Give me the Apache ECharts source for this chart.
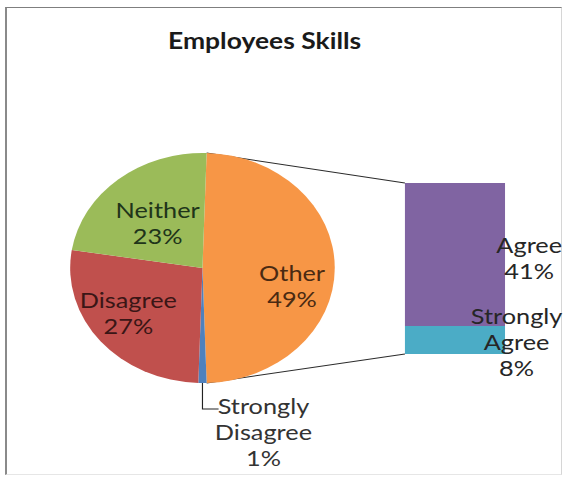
<!DOCTYPE html>
<html>
<head>
<meta charset="utf-8">
<script src="https://cdn.jsdelivr.net/npm/echarts@6/dist/echarts.min.js"></script>
<style>
  html, body { margin: 0; padding: 0; background: #fff; width: 566px; height: 477px; overflow: hidden; }
  #frame {
    position: absolute; left: 5px; top: 7px; width: 557px; height: 468px; box-sizing: border-box;
    border-top: 1px solid #7f7f7f; border-left: 2px solid #8a8a8a;
    border-right: 1px solid #d6d6d6; border-bottom: 1px solid #e6e6e6;
  }
  /* the chart is laid out on a narrower canvas and widened to the page */
  #chart { position: absolute; left: 0; top: 0; width: 492px; height: 477px; transform: scaleX(1.1504); transform-origin: 0 0; }
</style>
</head>
<body>
<div id="frame"></div>
<div id="chart"></div>
<script>
// Answers shown as their own pie slices
const pieCategories = ['Strongly Disagree', 'Disagree', 'Neither'];
const pieValues = [1, 27, 23];
// Answers grouped into the "Other" slice and broken out in the stacked bar
const barCategories = ['Agree', 'Strongly Agree'];
const barValues = [41, 8];
const otherName = 'Other';
const titleText = 'Employees Skills';

const colors = {
  'Strongly Disagree': '#4F81BD',
  'Disagree': '#C0504D',
  'Neither': '#9BBB59',
  'Agree': '#8064A2',
  'Strongly Agree': '#4BACC6',
  'Other': '#F79646'
};
const labelColors = { 'Other': '#4a2a12', 'Disagree': '#3a1616', 'Neither': '#20341a' };
const FONT = 'Lato, "Open Sans", sans-serif';

const otherValue = barValues.reduce((a, b) => a + b, 0);
const total = otherValue + pieValues.reduce((a, b) => a + b, 0);
// "Other" slice is centred on the 3 o'clock direction
const otherSweep = otherValue / total * 360;
const startAngle = otherSweep / 2;

const pieCenter = [176, 268];
const pieRadius = 115;
const grid = { left: 352, top: 183, width: 87, height: 171 };

// nudges for the labels drawn inside the slices
const insideNudge = { 'Other': [8.7, 9], 'Neither': [-0.2, 0.5], 'Disagree': [-8.9, 3] };

// category names wrap onto separate lines in the labels
const wrapName = n => n.replace(' ', '\n');

const pieData = [{ name: otherName, value: otherValue }].concat(
  pieCategories.map((n, i) => ({ name: n, value: pieValues[i] }))
).map(d => {
  const item = { name: d.name, value: d.value, itemStyle: { color: colors[d.name] } };
  if (d.name === 'Strongly Disagree') {
    item.label = { position: 'outside', color: '#333', align: 'center' };
    item.labelLine = { show: true, lineStyle: { color: '#222', width: 1 } };
  } else {
    item.label = { position: 'inside', color: labelColors[d.name] };
    item.labelLine = { show: false };
  }
  return item;
});

const barOrder = barCategories.slice().reverse(); // bottom segment first
const barLabelDistance = { 'Agree': 21, 'Strongly Agree': 10 };
const barLabelOffset = { 'Agree': [0, 3], 'Strongly Agree': [0, 2] };

const chart = echarts.init(document.getElementById('chart'), null, { renderer: 'svg' });

chart.setOption({
  animation: false,
  backgroundColor: 'transparent',
  title: {
    text: titleText,
    left: 230,
    top: 29,
    padding: 0,
    textAlign: 'center',
    textStyle: { fontFamily: FONT, fontWeight: 'bold', fontSize: 23, color: '#1a1a1a' }
  },
  grid: grid,
  xAxis: { type: 'category', data: [otherName], show: false },
  yAxis: { type: 'value', min: 0, max: otherValue, show: false },
  series: [
    {
      type: 'pie',
      center: pieCenter,
      radius: pieRadius,
      startAngle: startAngle,
      clockwise: true,
      avoidLabelOverlap: false,
      z: 3,
      label: {
        formatter: p => wrapName(p.name) + '\n' + p.value + '%',
        fontFamily: FONT, fontSize: 22, lineHeight: 26
      },
      labelLayout: function (p) {
        const name = pieData[p.dataIndex].name;
        if (name === 'Strongly Disagree') {
          const p0 = p.labelLinePoints ? p.labelLinePoints[0] : [pieCenter[0], pieCenter[1] + pieRadius];
          const bend = [p0[0], p0[1] + 26];
          return {
            x: p0[0] + 53, y: p0[1] + 49,
            align: 'center', verticalAlign: 'middle',
            labelLinePoints: [p0, bend, [bend[0] + 14, bend[1]]]
          };
        }
        const n = insideNudge[name] || [0, 0];
        return { dx: n[0], dy: n[1] };
      },
      data: pieData
    }
  ].concat(barOrder.map(name => ({
    type: 'bar',
    name: name,
    stack: 'other',
    barWidth: '100%',
    itemStyle: { color: colors[name] },
    label: {
      show: true,
      position: 'right',
      align: 'center',
      distance: barLabelDistance[name],
      offset: barLabelOffset[name],
      formatter: p => wrapName(p.seriesName) + '\n' + p.value + '%',
      fontFamily: FONT, fontSize: 22, lineHeight: 26, color: '#262626'
    },
    data: [barValues[barCategories.indexOf(name)]]
  })))
});

// connector lines from the edges of the "Other" slice to the bar corners
const rad = a => a * Math.PI / 180;
const a0 = rad(startAngle), a1 = rad(startAngle - otherSweep);
const pTop = [pieCenter[0] + pieRadius * Math.cos(a0), pieCenter[1] - pieRadius * Math.sin(a0)];
const pBot = [pieCenter[0] + pieRadius * Math.cos(a1), pieCenter[1] - pieRadius * Math.sin(a1)];
const yTop = chart.convertToPixel({ yAxisIndex: 0 }, otherValue);
const yBot = chart.convertToPixel({ yAxisIndex: 0 }, 0);
chart.setOption({
  graphic: [
    { type: 'line', z: 1, shape: { x1: pTop[0], y1: pTop[1], x2: grid.left, y2: yTop }, style: { stroke: '#2b2b2b', lineWidth: 1 } },
    { type: 'line', z: 1, shape: { x1: pBot[0], y1: pBot[1], x2: grid.left, y2: yBot }, style: { stroke: '#2b2b2b', lineWidth: 1 } }
  ]
});
</script>
</body>
</html>
